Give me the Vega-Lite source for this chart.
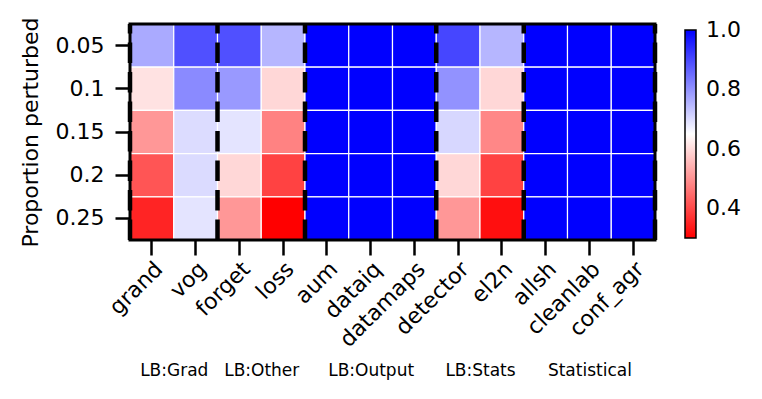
{
  "$schema": "https://vega.github.io/schema/vega-lite/v6.json",
  "width": 525,
  "height": 216,
  "autosize": {"type": "none"},
  "padding": {"left": 130, "top": 24, "right": 107, "bottom": 159},
  "config": {
    "font": "DejaVu Sans",
    "view": {"stroke": null},
    "axis": {"labelColor": "black", "tickColor": "black", "titleColor": "black", "labelFont": "DejaVu Sans", "titleFont": "DejaVu Sans"},
    "legend": {"labelFont": "DejaVu Sans", "labelColor": "black"}
  },
  "datasets": {
    "cells": [
      {"method": "grand", "proportion": "0.05", "score": 0.767},
      {"method": "grand", "proportion": "0.1", "score": 0.61},
      {"method": "grand", "proportion": "0.15", "score": 0.507},
      {"method": "grand", "proportion": "0.2", "score": 0.417},
      {"method": "grand", "proportion": "0.25", "score": 0.35},
      {"method": "vog", "proportion": "0.05", "score": 0.89},
      {"method": "vog", "proportion": "0.1", "score": 0.81},
      {"method": "vog", "proportion": "0.15", "score": 0.698},
      {"method": "vog", "proportion": "0.2", "score": 0.70},
      {"method": "vog", "proportion": "0.25", "score": 0.687},
      {"method": "forget", "proportion": "0.05", "score": 0.89},
      {"method": "forget", "proportion": "0.1", "score": 0.79},
      {"method": "forget", "proportion": "0.15", "score": 0.687},
      {"method": "forget", "proportion": "0.2", "score": 0.595},
      {"method": "forget", "proportion": "0.25", "score": 0.507},
      {"method": "loss", "proportion": "0.05", "score": 0.75},
      {"method": "loss", "proportion": "0.1", "score": 0.595},
      {"method": "loss", "proportion": "0.15", "score": 0.478},
      {"method": "loss", "proportion": "0.2", "score": 0.39},
      {"method": "loss", "proportion": "0.25", "score": 0.30},
      {"method": "aum", "proportion": "0.05", "score": 1.0},
      {"method": "aum", "proportion": "0.1", "score": 1.0},
      {"method": "aum", "proportion": "0.15", "score": 1.0},
      {"method": "aum", "proportion": "0.2", "score": 1.0},
      {"method": "aum", "proportion": "0.25", "score": 1.0},
      {"method": "dataiq", "proportion": "0.05", "score": 1.0},
      {"method": "dataiq", "proportion": "0.1", "score": 1.0},
      {"method": "dataiq", "proportion": "0.15", "score": 1.0},
      {"method": "dataiq", "proportion": "0.2", "score": 1.0},
      {"method": "dataiq", "proportion": "0.25", "score": 1.0},
      {"method": "datamaps", "proportion": "0.05", "score": 1.0},
      {"method": "datamaps", "proportion": "0.1", "score": 1.0},
      {"method": "datamaps", "proportion": "0.15", "score": 1.0},
      {"method": "datamaps", "proportion": "0.2", "score": 1.0},
      {"method": "datamaps", "proportion": "0.25", "score": 1.0},
      {"method": "detector", "proportion": "0.05", "score": 0.904},
      {"method": "detector", "proportion": "0.1", "score": 0.80},
      {"method": "detector", "proportion": "0.15", "score": 0.705},
      {"method": "detector", "proportion": "0.2", "score": 0.595},
      {"method": "detector", "proportion": "0.25", "score": 0.507},
      {"method": "el2n", "proportion": "0.05", "score": 0.75},
      {"method": "el2n", "proportion": "0.1", "score": 0.595},
      {"method": "el2n", "proportion": "0.15", "score": 0.485},
      {"method": "el2n", "proportion": "0.2", "score": 0.39},
      {"method": "el2n", "proportion": "0.25", "score": 0.32},
      {"method": "allsh", "proportion": "0.05", "score": 1.0},
      {"method": "allsh", "proportion": "0.1", "score": 1.0},
      {"method": "allsh", "proportion": "0.15", "score": 1.0},
      {"method": "allsh", "proportion": "0.2", "score": 1.0},
      {"method": "allsh", "proportion": "0.25", "score": 1.0},
      {"method": "cleanlab", "proportion": "0.05", "score": 1.0},
      {"method": "cleanlab", "proportion": "0.1", "score": 1.0},
      {"method": "cleanlab", "proportion": "0.15", "score": 1.0},
      {"method": "cleanlab", "proportion": "0.2", "score": 1.0},
      {"method": "cleanlab", "proportion": "0.25", "score": 1.0},
      {"method": "conf_agr", "proportion": "0.05", "score": 1.0},
      {"method": "conf_agr", "proportion": "0.1", "score": 1.0},
      {"method": "conf_agr", "proportion": "0.15", "score": 1.0},
      {"method": "conf_agr", "proportion": "0.2", "score": 1.0},
      {"method": "conf_agr", "proportion": "0.25", "score": 1.0}
    ],
    "bounds": [
      {"boundary": 0},
      {"boundary": 2},
      {"boundary": 4},
      {"boundary": 7},
      {"boundary": 9},
      {"boundary": 12}
    ]
  },
  "layer": [
    {
      "data": {"name": "cells"},
      "mark": {"type": "rect", "stroke": "white", "strokeWidth": 1.2},
      "encoding": {
        "x": {
          "field": "method", "type": "nominal",
          "sort": ["grand", "vog", "forget", "loss", "aum", "dataiq", "datamaps", "detector", "el2n", "allsh", "cleanlab", "conf_agr"],
          "scale": {"paddingInner": 0, "paddingOuter": 0},
          "axis": {"title": null, "labelAngle": -45, "labelFontSize": 22, "tickSize": 15, "tickWidth": 2.5, "domain": false, "labelPadding": 3}
        },
        "y": {
          "field": "proportion", "type": "nominal",
          "sort": ["0.05", "0.1", "0.15", "0.2", "0.25"],
          "scale": {"paddingInner": 0, "paddingOuter": 0},
          "axis": {"title": "Proportion perturbed", "titleFontSize": 22, "titleFontWeight": "normal", "titlePadding": 13, "labelFontSize": 22, "tickSize": 15, "tickWidth": 2.5, "domain": false, "labelPadding": 11}
        },
        "color": {
          "field": "score", "type": "quantitative",
          "scale": {"domain": [0.3, 0.65, 1.0], "range": ["#ff0000", "#ffffff", "#0000ff"], "interpolate": "rgb"},
          "legend": {
            "title": null, "orient": "none", "legendX": 555, "legendY": 6, "direction": "vertical",
            "gradientLength": 208, "gradientThickness": 11, "gradientStrokeColor": "black", "gradientStrokeWidth": 1.5,
            "values": [0.4, 0.6, 0.8, 1.0], "format": ".1f", "labelFontSize": 22, "labelOffset": 10, "padding": 0,
            "encode": {"labels": {"update": {"baseline": {"value": "middle"}}}}
          }
        }
      }
    },
    {
      "data": {"name": "bounds"},
      "mark": {"type": "rule", "color": "black", "strokeWidth": 4.5, "strokeDash": [20.5, 9], "strokeDashOffset": 11},
      "encoding": {
        "x": {
          "field": "boundary", "type": "quantitative",
          "scale": {"domain": [0, 12], "nice": false, "zero": false},
          "axis": {
            "orient": "bottom", "values": [1, 3, 5.5, 8, 10.5],
            "labelExpr": "datum.value == 1 ? 'LB:Grad' : datum.value == 3 ? 'LB:Other' : datum.value == 5.5 ? 'LB:Output' : datum.value == 8 ? 'LB:Stats' : 'Statistical'",
            "ticks": false, "domain": false, "grid": false, "title": null, "labelFontSize": 17, "labelAngle": 0, "offset": 122, "labelPadding": 0, "labelFlush": false
          }
        }
      }
    },
    {
      "data": {"values": [{"frame": "plot"}]},
      "mark": {"type": "rect", "fill": null, "stroke": "black", "strokeWidth": 3},
      "encoding": {}
    }
  ],
  "resolve": {"scale": {"x": "independent"}, "axis": {"x": "independent"}}
}
